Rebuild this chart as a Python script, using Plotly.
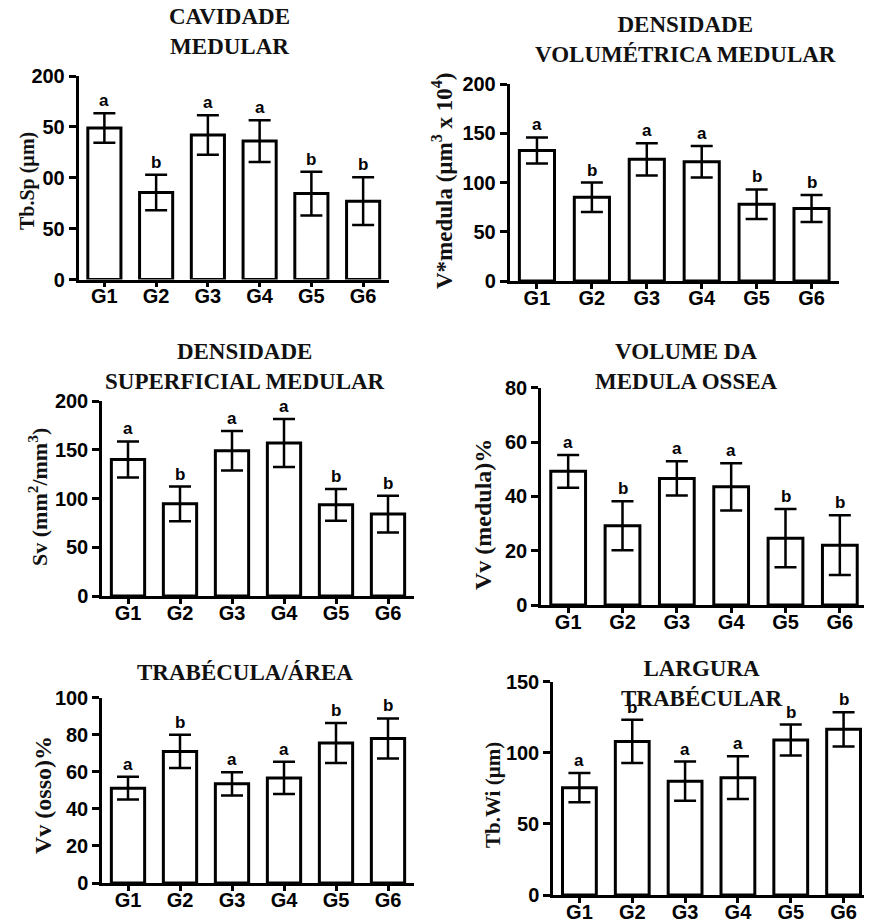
import plotly.graph_objects as go

W, H = 872, 921
OFFX, OFFY = 8, 8  # page offset of the plot div

groups = ["G1", "G2", "G3", "G4", "G5", "G6"]

# Panel 1: CAVIDADE MEDULAR (Tb.Sp)
tbsp_mean = [149, 85.5, 142, 136, 84.5, 77]
tbsp_err = [14.5, 17.5, 19.5, 20.5, 21.5, 23.5]
tbsp_letters = ["a", "b", "a", "a", "b", "b"]

# Panel 2: DENSIDADE VOLUMETRICA MEDULAR (V*medula)
vmed_mean = [132.5, 85, 123.5, 121, 78, 73.5]
vmed_err = [13.3, 15, 16.4, 16, 15, 13.7]
vmed_letters = ["a", "b", "a", "a", "b", "b"]

# Panel 3: DENSIDADE SUPERFICIAL MEDULAR (Sv)
sv_mean = [140, 94.5, 149, 157, 93.5, 84]
sv_err = [18.5, 17.8, 20.2, 24.6, 16.3, 18.8]
sv_letters = ["a", "b", "a", "a", "b", "b"]

# Panel 4: VOLUME DA MEDULA OSSEA (Vv medula)
vvmed_mean = [49.2, 29.2, 46.6, 43.5, 24.6, 22]
vvmed_err = [6, 9, 6.3, 8.7, 10.7, 11]
vvmed_letters = ["a", "b", "a", "a", "b", "b"]

# Panel 5: TRABECULA/AREA (Vv osso)
vvosso_mean = [51.2, 71, 53.5, 56.7, 75.6, 78]
vvosso_err = [6.2, 9, 6.3, 8.7, 10.8, 10.8]
vvosso_letters = ["a", "b", "a", "a", "b", "b"]

# Panel 6: LARGURA TRABECULAR (Tb.Wi)
tbwi_mean = [75.5, 108, 80, 82.5, 109, 116.5]
tbwi_err = [10.3, 15.2, 13.8, 15, 10.9, 12]
tbwi_letters = ["a", "b", "a", "a", "b", "b"]

y1_ticks = [0, 50, 100, 150, 200]
y1_ticktext = ["0", "50", "00", "50", "200"]
y2_ticks = [0, 50, 100, 150, 200]
y3_ticks = [0, 50, 100, 150, 200]
y4_ticks = [0, 20, 40, 60, 80]
y5_ticks = [0, 20, 40, 60, 80, 100]
y6_ticks = [0, 50, 100, 150]

panels = [
    dict(mean=tbsp_mean, err=tbsp_err, letters=tbsp_letters, ymax=200,
         tickvals=y1_ticks, ticktext=y1_ticktext,
         title="CAVIDADE<br>MEDULAR",
         ytitle="Tb.Sp (µm)"),
    dict(mean=vmed_mean, err=vmed_err, letters=vmed_letters, ymax=200,
         tickvals=y2_ticks, ticktext=[str(v) for v in y2_ticks],
         title="DENSIDADE<br>VOLUMÉTRICA MEDULAR",
         ytitle="V*medula (µm<sup>3</sup> x 10<sup>4</sup>)"),
    dict(mean=sv_mean, err=sv_err, letters=sv_letters, ymax=200,
         tickvals=y3_ticks, ticktext=[str(v) for v in y3_ticks],
         title="DENSIDADE<br>SUPERFICIAL MEDULAR",
         ytitle="Sv (mm<sup>2</sup>/mm<sup>3</sup>)"),
    dict(mean=vvmed_mean, err=vvmed_err, letters=vvmed_letters, ymax=80,
         tickvals=y4_ticks, ticktext=[str(v) for v in y4_ticks],
         title="VOLUME DA<br>MEDULA OSSEA",
         ytitle="Vv (medula)%"),
    dict(mean=vvosso_mean, err=vvosso_err, letters=vvosso_letters, ymax=100,
         tickvals=y5_ticks, ticktext=[str(v) for v in y5_ticks],
         title="TRABÉCULA/ÁREA",
         ytitle="Vv (osso)%"),
    dict(mean=tbwi_mean, err=tbwi_err, letters=tbwi_letters, ymax=150,
         tickvals=y6_ticks, ticktext=[str(v) for v in y6_ticks],
         title="LARGURA<br>TRABÉCULAR",
         ytitle="Tb.Wi (µm)"),
]

# layout boxes in page pixels: (x_left, x_right, y_top, y_bottom)
boxes = [
    (78.5, 389, 76, 279.5),
    (509.5, 839, 84, 281),
    (102, 414, 401, 596),
    (541, 867, 387.7, 605),
    (102, 414, 697.7, 883),
    (553, 870, 681.7, 895),
]
title_pos = [(229, 31.7), (685, 39), (245, 366.5), (686, 366.5), (245, 672), (701, 683.5)]
ytitle_pos = [(28, 181, 20), (443, 181, 23), (38, 497, 22), (483, 515, 24), (43, 795, 24), (493, 795, 21)]


def px(x):
    return (x - OFFX) / W


def py(y):
    return 1 - (y - OFFY) / H


SANS = "Liberation Sans, Arial, sans-serif"
SERIF = "Liberation Serif, Times New Roman, serif"

fig = go.Figure()
annotations = []
for i, p in enumerate(panels):
    n = i + 1
    xa = "x" if n == 1 else f"x{n}"
    ya = "y" if n == 1 else f"y{n}"
    fig.add_trace(go.Bar(
        x=groups, y=p["mean"], xaxis=xa, yaxis=ya,
        width=0.64,
        marker=dict(color="white", line=dict(color="black", width=3)),
        error_y=dict(type="data", array=p["err"], visible=True,
                     color="black", thickness=2.5, width=11),
        showlegend=False, hoverinfo="skip",
    ))
    xl, xr, yt, yb = boxes[i]
    xkey = "xaxis" if n == 1 else f"xaxis{n}"
    ykey = "yaxis" if n == 1 else f"yaxis{n}"
    fig.layout[xkey] = dict(
        domain=[px(xl), px(xr)], anchor=ya, range=[-0.5, 5.5],
        showline=True, linecolor="black", linewidth=2.5,
        ticks="outside", ticklen=5, tickwidth=2.5, tickcolor="black",
        ticklabelstandoff=-8,
        tickfont=dict(family=SANS, size=20, color="black", weight="bold"),
        showgrid=False, zeroline=False, fixedrange=True, automargin=False,
    )
    fig.layout[ykey] = dict(
        domain=[py(yb), py(yt)], anchor=xa, range=[0, p["ymax"]],
        tickvals=p["tickvals"], ticktext=p["ticktext"],
        showline=True, linecolor="black", linewidth=2.5,
        ticks="outside", ticklen=7, tickwidth=2.5, tickcolor="black",
        tickfont=dict(family=SANS, size=20, color="black", weight="bold"),
        showgrid=False, zeroline=False, fixedrange=True, automargin=False,
    )
    # significance letters
    for g, m, e, L in zip(groups, p["mean"], p["err"], p["letters"]):
        annotations.append(dict(
            x=g, y=m + e, xref=xa, yref=ya, text=L, showarrow=False,
            yanchor="bottom", yshift=1,
            font=dict(family=SANS, size=17, color="black", weight="bold"),
        ))
    # panel title
    tx, ty = title_pos[i]
    annotations.append(dict(
        x=px(tx), y=py(ty), xref="paper", yref="paper", text=p["title"],
        showarrow=False, xanchor="center", yanchor="middle",
        font=dict(family=SERIF, size=23, color="#111111", weight="bold"),
    ))
    # y-axis title
    ax, ay, fs = ytitle_pos[i]
    annotations.append(dict(
        x=px(ax), y=py(ay), xref="paper", yref="paper", text=p["ytitle"],
        showarrow=False, textangle=-90, xanchor="center", yanchor="middle",
        font=dict(family=SERIF, size=fs, color="#111111", weight="bold"),
    ))

fig.update_layout(
    width=W, height=H, autosize=False,
    margin=dict(l=0, r=0, t=0, b=0, pad=0, autoexpand=False),
    paper_bgcolor="white", plot_bgcolor="white",
    annotations=annotations,
    bargap=0.3,
)

fig.write_html("out.html")
